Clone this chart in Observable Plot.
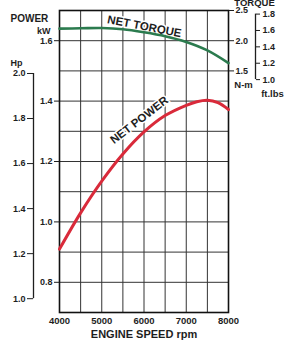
<!DOCTYPE html>
<html><head><meta charset="utf-8">
<script src="https://cdn.jsdelivr.net/npm/d3@7"></script>
<script src="https://cdn.jsdelivr.net/npm/@observablehq/plot@0.6"></script>
<style>
body{margin:0;background:#fff;}
svg{font-family:"Liberation Sans",Arial,sans-serif;font-weight:bold;}
</style>
</head><body><div id="chart"></div>
<script>
// Engine speed (rpm) and curves
const torqueRpm = [4000,4500,5000,5500,6000,6500,7000,7500,8000];
const torqueNm  = [2.20,2.205,2.21,2.19,2.14,2.075,1.98,1.84,1.63];
const powerRpm  = [4000,4500,5000,5500,6000,6500,7000,7250,7500,7750,8000];
const powerKw   = [0.910,1.030,1.135,1.225,1.298,1.352,1.386,1.398,1.403,1.395,1.372];

// Axes / ticks
const rpmTicks  = [4000,5000,6000,7000,8000];
const rpmGrid   = [4000,4500,5000,5500,6000,6500,7000,7500,8000];
const kwGrid    = [0.7,0.8,0.9,1.0,1.1,1.2,1.3,1.4,1.5,1.6,1.7];
const kwTicks   = [0.8,1.0,1.2,1.4,1.6];
const hpTicks   = [1.0,1.2,1.4,1.6,1.8,2.0];
const nmTicks   = [1.5,2.0,2.5];
const ftlbTicks = [1.0,1.2,1.4,1.6,1.8];

// Curve labels (rpm, kW-scale position)
const curveLabelNames = ["NET TORQUE","NET POWER"];
const curveLabelRpm   = [6010, 5890];
const curveLabelKw    = [1.647, 1.337];

// unit conversions
const HP_PER_KW = 1.341;
const NM_PER_FTLB = 1.3558;
const nmToKwScale = t => 1.2 + 0.2 * t;   // torque axis shares the kW scale
const kwScaleToNm = v => (v - 1.2) / 0.2;

const torque = torqueRpm.map((r,i) => ({rpm:r, nm:torqueNm[i]}));
const power = powerRpm.map((r,i) => ({rpm:r, kw:powerKw[i]}));

const green = "#2b7b4e", red = "#d92a3a", ink = "#1e1e1e";

const plot = Plot.plot({
  width: 294, height: 344,
  marginLeft: 59, marginRight: 66, marginTop: 10, marginBottom: 32,
  style: {fontFamily: '"Liberation Sans", Arial, sans-serif', fontWeight: "bold", fontSize: "9px", color: ink, background: "#fff", overflow: "visible"},
  x: {domain: [4000, 8000]},
  y: {domain: [0.7, 1.7]},
  marks: [
    Plot.ruleX(rpmGrid, {stroke: "#333", strokeWidth: 1}),
    Plot.ruleY(kwGrid, {stroke: "#333", strokeWidth: 1}),
    Plot.text([0,1], {x: i => curveLabelRpm[i], y: i => curveLabelKw[i], text: i => curveLabelNames[i],
      rotate: i => i === 0 ? 11 : -37.6, fontSize: 11.5, fontWeight: "bold", fill: ink, stroke: "#fff", strokeWidth: 3, paintOrder: "stroke"}),
    Plot.frame({stroke: "#111", strokeWidth: 1.6}),
    Plot.line(torque, {x: "rpm", y: d => nmToKwScale(d.nm), stroke: green, strokeWidth: 2.6, curve: "catmull-rom"}),
    Plot.line(power, {x: "rpm", y: "kw", stroke: red, strokeWidth: 3, curve: "catmull-rom"}),
    Plot.axisX(rpmTicks, {tickSize: 0, tickPadding: 5, fontSize: 9.5, tickFormat: d => String(d), label: null}),
    Plot.axisY(kwTicks, {anchor: "left", tickSize: 5, tickPadding: 2, fontSize: 9, tickFormat: d => d.toFixed(1), label: null}),
    Plot.axisY(hpTicks.map(h => h / HP_PER_KW), {anchor: "left", dx: -26, tickSize: 6, tickPadding: 2, fontSize: 9, tickFormat: d => (d * HP_PER_KW).toFixed(1), label: null}),
    Plot.ruleX([4000], {y1: hpTicks[0] / HP_PER_KW, y2: hpTicks[hpTicks.length-1] / HP_PER_KW, dx: -26, stroke: ink, strokeWidth: 1.3}),
    Plot.axisY(nmTicks.map(nmToKwScale), {anchor: "right", tickSize: 5, tickPadding: 2, fontSize: 9, tickFormat: d => kwScaleToNm(d).toFixed(1), label: null}),
    Plot.axisY(ftlbTicks.map(f => nmToKwScale(f * NM_PER_FTLB)), {anchor: "right", dx: 27, tickSize: 4, tickPadding: 3, fontSize: 9, tickFormat: d => (kwScaleToNm(d) / NM_PER_FTLB).toFixed(1), label: null}),
    Plot.ruleX([8000], {y1: nmToKwScale(ftlbTicks[0] * NM_PER_FTLB), y2: nmToKwScale(ftlbTicks[ftlbTicks.length-1] * NM_PER_FTLB), dx: 27, stroke: ink, strokeWidth: 1.3}),
    Plot.text(["POWER"], {text: d => d, frameAnchor: "top-left", dx: -49, dy: 4, textAnchor: "start", fontSize: 10, fill: ink}),
    Plot.text(["kW"], {text: d => d, frameAnchor: "top-left", dx: -9, dy: 17, textAnchor: "end", fontSize: 9, fill: ink}),
    Plot.text(["Hp"], {text: d => d, frameAnchor: "top-left", dx: -49, dy: 49, textAnchor: "start", fontSize: 9, fill: ink}),
    Plot.text(["TORQUE"], {text: d => d, frameAnchor: "top-right", dx: 26, dy: -11, textAnchor: "middle", fontSize: 9.5, fill: ink}),
    Plot.text(["N-m"], {text: d => d, frameAnchor: "top-right", dx: 15, dy: 71, textAnchor: "middle", fontSize: 9.5, fill: ink}),
    Plot.text(["ft.lbs"], {text: d => d, frameAnchor: "top-right", dx: 44, dy: 80, textAnchor: "middle", fontSize: 9.5, fill: ink}),
    Plot.text(["ENGINE SPEED rpm"], {text: d => d, frameAnchor: "bottom", dy: 25, textAnchor: "middle", fontSize: 11, fill: ink})
  ]
});
document.getElementById("chart").append(plot);
</script>
</body></html>
